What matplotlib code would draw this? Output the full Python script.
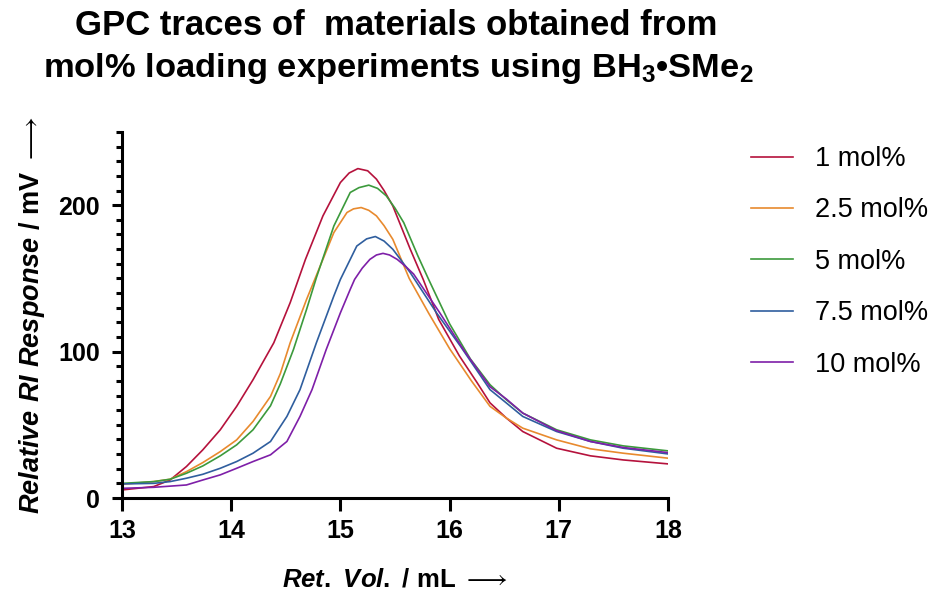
import matplotlib
matplotlib.use("Agg")
import matplotlib.pyplot as plt
from matplotlib.ticker import MultipleLocator

plt.rcParams['font.family'] = ['Liberation Sans', 'DejaVu Sans']
plt.rcParams['mathtext.fontset'] = 'custom'
plt.rcParams['mathtext.rm'] = 'Liberation Sans:bold'
plt.rcParams['mathtext.bf'] = 'Liberation Sans:bold'
plt.rcParams['mathtext.it'] = 'Liberation Sans:italic:bold'
plt.rcParams['mathtext.fallback'] = 'stixsans'

# Daten (Ret. Vol. in mL, RI-Signal in mV)
labels = ['1 mol%', '2.5 mol%', '5 mol%', '7.5 mol%', '10 mol%']
colors = ['#B5123C', '#E88A2E', '#3C9A3C', '#2F5E9E', '#7E1FA8']

x_1 = [13.00, 13.29, 13.44, 13.59, 13.74, 13.90, 14.05, 14.20, 14.39, 14.54, 14.68, 14.84,
       15.00, 15.08, 15.16, 15.25, 15.33, 15.40, 15.48, 15.64, 15.76, 15.90, 16.09, 16.25,
       16.37, 16.52, 16.67, 16.98, 17.29, 17.59, 18.00]
y_1 = [5.5, 7.8, 12.3, 21.5, 32.9, 46.6, 62.6, 80.8, 106, 133.4, 163, 192.7,
       215.5, 222, 225, 223.5, 217.8, 210, 199.5, 169.9, 149, 122, 97, 79,
       65, 54.6, 45.4, 34, 28.8, 26, 23.3]

x_2_5 = [13.00, 13.29, 13.44, 13.59, 13.74, 13.90, 14.05, 14.20, 14.36, 14.45, 14.54, 14.69,
         14.84, 14.94, 15.06, 15.12, 15.19, 15.26, 15.33, 15.40, 15.48, 15.63, 15.81, 16.00,
         16.20, 16.37, 16.52, 16.67, 16.98, 17.29, 17.59, 18.00]
y_2_5 = [9.4, 11.2, 12.8, 18.0, 24.2, 31.7, 39.7, 52.3, 69.4, 85, 106, 135.6,
         163, 181.3, 195, 197.5, 198.4, 196.5, 192.7, 186, 176.7, 150, 126, 102,
         80, 62.6, 54.6, 47.7, 39.7, 33.6, 30.6, 27.2]

x_5 = [13.00, 13.29, 13.44, 13.59, 13.74, 13.90, 14.05, 14.20, 14.36, 14.45, 14.57, 14.69,
       14.78, 14.94, 15.09, 15.17, 15.26, 15.34, 15.42, 15.50, 15.58, 15.71, 15.81, 16.00,
       16.19, 16.37, 16.52, 16.67, 16.98, 17.29, 17.59, 18.00]
y_5 = [10, 11.2, 12.8, 16.9, 21.9, 28.8, 36.3, 46.6, 63, 78, 101.4, 128.8,
       150.5, 185.8, 208.7, 212, 213.7, 211.5, 206.4, 198, 188.1, 165.3, 149, 119,
       95, 77.4, 67.1, 58, 46.6, 39.7, 35.6, 32.2]

x_7_5 = [13.00, 13.29, 13.44, 13.59, 13.74, 13.90, 14.05, 14.20, 14.36, 14.51, 14.63, 14.78,
         14.94, 15.00, 15.15, 15.24, 15.32, 15.40, 15.48, 15.56, 15.64, 15.88, 16.10, 16.37,
         16.52, 16.67, 16.98, 17.29, 17.59, 18.00]
y_7_5 = [9.6, 10.0, 11.2, 13.5, 16.2, 20.3, 24.9, 30.6, 38.6, 55.7, 74, 106,
         138, 149.3, 172.1, 177, 178.6, 175.5, 169.9, 162, 153.9, 126.5, 103.6, 74,
         64.9, 55.7, 45.4, 38.6, 34, 30.1]

x_10 = [13.00, 13.29, 13.59, 13.74, 13.90, 14.05, 14.20, 14.36, 14.51, 14.63, 14.74, 14.87,
        15.00, 15.09, 15.13, 15.20, 15.27, 15.33, 15.39, 15.45, 15.52, 15.60, 15.67, 15.91,
        16.13, 16.37, 16.52, 16.67, 16.98, 17.29, 17.59, 18.00]
y_10 = [6.6, 7.3, 8.9, 12.3, 15.8, 20.3, 24.9, 29.5, 38.6, 55.7, 74, 101.4,
        126.5, 142.5, 149.3, 157, 163, 166, 167.1, 166, 163, 158, 153, 126.5,
        101, 76, 67.6, 58, 46, 38.6, 34.5, 31]

xs = [x_1, x_2_5, x_5, x_7_5, x_10]
ys = [y_1, y_2_5, y_5, y_7_5, y_10]

fig = plt.figure(figsize=(9.37, 5.9), dpi=100)
ax = fig.add_axes([122/937, 1 - 498/590, 546/937, 366/590])

for x, y, c, lab in zip(xs, ys, colors, labels):
    ax.plot(x, y, color=c, lw=1.2, label=lab)

ax.set_xlim(13, 18)
ax.set_ylim(0, 250)
ax.xaxis.set_major_locator(MultipleLocator(1))
ax.yaxis.set_major_locator(MultipleLocator(100))
ax.yaxis.set_minor_locator(MultipleLocator(10))

for s in ['top', 'right']:
    ax.spines[s].set_visible(False)
for s in ['left', 'bottom']:
    ax.spines[s].set_linewidth(2.2)
ax.tick_params(axis='x', which='major', length=9, width=2.2, labelsize=18, pad=6)
ax.tick_params(axis='y', which='major', length=7, width=2.2, labelsize=18, pad=9)
ax.tick_params(axis='y', which='minor', length=4, width=2.2)
for t in ax.get_xticklabels() + ax.get_yticklabels():
    t.set_fontweight('bold')

ax.set_xlabel(r'$\mathit{Ret.\ Vol.}$ / mL $\longrightarrow$', fontsize=18.5, fontweight='bold')
ax.xaxis.set_label_coords(0.5, -0.19)
ax.set_ylabel(r'$\mathit{Relative\ RI\ Response}$ / mV $\longrightarrow$', fontsize=19.5,
              fontweight='bold', labelpad=8)

fig.text(396/937, 1 - 35/590, 'GPC traces of  materials obtained from',
         ha='center', va='baseline', fontsize=25, fontweight='bold')
fig.text(398/937, 1 - 77/590, r'mol% loading experiments using BH$_\mathbf{3}$•SMe$_\mathbf{2}$',
         ha='center', va='baseline', fontsize=24.8, fontweight='bold')

ax.legend(loc='upper left', bbox_to_anchor=(751/937, 1 - 146/590), bbox_transform=fig.transFigure,
          frameon=False, fontsize=19.5, handlelength=1.55, handletextpad=0.8,
          labelspacing=0.94, borderpad=0, borderaxespad=0)

fig.savefig('out.png', dpi=100)
